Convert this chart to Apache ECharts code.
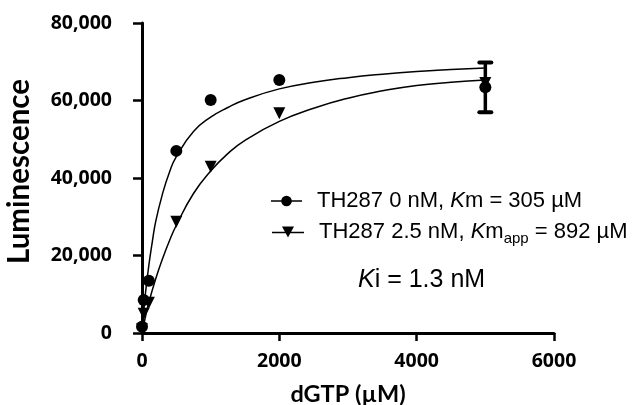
<!DOCTYPE html>
<html>
<head>
<meta charset="utf-8">
<script src="https://cdn.jsdelivr.net/npm/echarts@6/dist/echarts.min.js"></script>
<style>
  html, body { margin: 0; padding: 0; background: #fff; }
  #chart { width: 639px; height: 405px; }
</style>
</head>
<body>
<div id="chart"></div>
<script>
// ---- data ----
const circleX = [0, 25, 100, 500, 1000, 2000, 5000];
const circleY = [1600, 8500, 13500, 47000, 60100, 65300, 63400];
const triX = [0, 25, 100, 500, 1000, 2000, 5000];
const triY = [1000, 5000, 7800, 28700, 42900, 56700, 64500];
const errX = [5000];
const errLow = [57000];
const errHigh = [69800];
const fit0X = [0, 25, 50, 100, 150, 200, 300, 400, 500, 750, 1000, 1250, 1500, 2000, 2500, 3000, 3500, 4000, 4500, 5000];
const fit0Y = [0, 5500, 10200, 17500, 23500, 28800, 36000, 41500, 45500, 52000, 55700, 58200, 60200, 63000, 64700, 65900, 66800, 67500, 68000, 68400];
const fit1X = [0, 50, 100, 200, 300, 400, 500, 750, 1000, 1250, 1500, 2000, 2500, 3000, 3500, 4000, 4500, 5000];
const fit1Y = [0, 4200, 7900, 14000, 19200, 23800, 27800, 36000, 41800, 46300, 49700, 54600, 58000, 60600, 62500, 63900, 64700, 65300];
const xTicks = [0, 2000, 4000, 6000];
const yTicks = [0, 20000, 40000, 60000, 80000];
const seriesNames = ['TH287 0 nM', 'TH287 2.5 nM'];

const zip = (xs, ys) => xs.map((x, i) => [x, ys[i]]);
const tickFont = 'Open Sans';
const titleFont = 'Lato';
const reg = 'Liberation Sans';

const chart = echarts.init(document.getElementById('chart'), null, { renderer: 'canvas' });

const richLegend = {
  n: { fontFamily: reg, fontSize: 22, color: '#000' },
  p: { fontFamily: reg, fontSize: 22, color: '#000', padding: [0, 0, 0, 10] },
  i: { fontFamily: reg, fontSize: 22, color: '#000', fontStyle: 'italic' },
  sub: { fontFamily: reg, fontSize: 15, color: '#000', padding: [14, 0, 0, 0] }
};

const option = {
  animation: false,
  backgroundColor: '#fff',
  grid: { left: 142, right: 85, top: 23, bottom: 72, containLabel: false, outerBoundsMode: 'none' },
  xAxis: {
    type: 'value', min: xTicks[0], max: xTicks[xTicks.length - 1], interval: 2000,
    name: 'dGTP (µM)', nameLocation: 'middle', nameGap: 49,
    nameTextStyle: { fontFamily: titleFont, fontWeight: 'bold', fontSize: 23.5, color: '#000' },
    axisLine: { show: true, onZero: false, lineStyle: { color: '#000', width: 3 } },
    axisTick: { show: true, inside: false, length: 8, lineStyle: { color: '#000', width: 2.5 } },
    axisLabel: { margin: 18, fontFamily: tickFont, fontWeight: 'bold', fontSize: 19.5, color: '#000', formatter: v => String(v) },
    splitLine: { show: false }
  },
  yAxis: {
    type: 'value', min: yTicks[0], max: yTicks[yTicks.length - 1], interval: 20000,
    name: 'Luminescence', nameLocation: 'middle', nameGap: 108, nameRotate: 90,
    nameTextStyle: { fontFamily: titleFont, fontWeight: 'bold', fontSize: 29.5, color: '#000', padding: [0, 0, 0, 13] },
    axisLine: { show: true, onZero: false, lineStyle: { color: '#000', width: 3 } },
    axisTick: { show: true, inside: false, length: 9, lineStyle: { color: '#000', width: 2.5 } },
    axisLabel: {
      margin: 30, fontFamily: tickFont, fontWeight: 'bold', fontSize: 19.5, color: '#000',
      formatter: v => v.toLocaleString('en-US')
    },
    splitLine: { show: false }
  },
  legend: [
    {
      data: [{ name: seriesNames[0], icon: 'path://M0,5.25 L32,5.25 L32,6.75 L0,6.75 Z M16,0.5 A5.5,5.5 0 1 1 15.99,0.5 Z' }],
      left: 271, top: 190, padding: 0, itemWidth: 31, itemHeight: 12, selectedMode: false,
      formatter: () => '{p|TH287 0 nM, }{i|K}{n|m = 305 µM}',
      textStyle: { rich: richLegend }
    },
    {
      data: [{ name: seriesNames[1], icon: 'path://M0,5.25 L32,5.25 L32,6.75 L0,6.75 Z M10,0 L22,0 L16,11 Z' }],
      left: 272, top: 221, padding: 0, itemWidth: 32, itemHeight: 12, selectedMode: false,
      formatter: () => '{p|TH287 2.5 nM, }{i|K}{n|m}{sub|app}{n| = 892 µM}',
      textStyle: { rich: richLegend }
    }
  ],
  graphic: [
    {
      type: 'text', x: 358, y: 280,
      style: {
        text: '{i|K}{n|i = 1.3 nM}',
        verticalAlign: 'middle',
        rich: {
          i: { fontFamily: reg, fontSize: 25, fontStyle: 'italic', fill: '#000' },
          n: { fontFamily: reg, fontSize: 25, fill: '#000' }
        }
      }
    }
  ],
  series: [
    {
      type: 'line', name: 'fit0', data: zip(fit0X, fit0Y), smooth: 0.5,
      showSymbol: false, symbol: 'none', lineStyle: { color: '#000', width: 1.5 }, z: 3, silent: true
    },
    {
      type: 'line', name: 'fit1', data: zip(fit1X, fit1Y), smooth: 0.5,
      showSymbol: false, symbol: 'none', lineStyle: { color: '#000', width: 1.5 }, z: 3, silent: true
    },
    {
      type: 'custom', name: 'err', z: 4, clip: false,
      data: errX.map((x, i) => [x, errLow[i], errHigh[i]]),
      renderItem: (params, api) => {
        const x = api.value(0);
        const lo = api.coord([x, api.value(1)]);
        const hi = api.coord([x, api.value(2)]);
        const cap = 6;
        return {
          type: 'group',
          children: [
            { type: 'line', shape: { x1: hi[0], y1: hi[1], x2: lo[0], y2: lo[1] }, style: { stroke: '#000', lineWidth: 3.5 } },
            { type: 'line', shape: { x1: hi[0] - cap, y1: hi[1], x2: hi[0] + cap, y2: hi[1] }, style: { stroke: '#000', lineWidth: 4, lineCap: 'round' } },
            { type: 'line', shape: { x1: lo[0] - cap, y1: lo[1], x2: lo[0] + cap, y2: lo[1] }, style: { stroke: '#000', lineWidth: 4, lineCap: 'round' } }
          ]
        };
      }
    },
    {
      type: 'scatter', name: seriesNames[1], data: zip(triX, triY), symbol: 'triangle', symbolRotate: 180,
      symbolSize: 12, itemStyle: { color: '#000', opacity: 1 }, z: 5, clip: false
    },
    {
      type: 'scatter', name: seriesNames[0], data: zip(circleX, circleY), symbol: 'circle',
      symbolSize: 12, itemStyle: { color: '#000', opacity: 1 }, z: 6, clip: false
    }
  ]
};
chart.setOption(option);
</script>
</body>
</html>
